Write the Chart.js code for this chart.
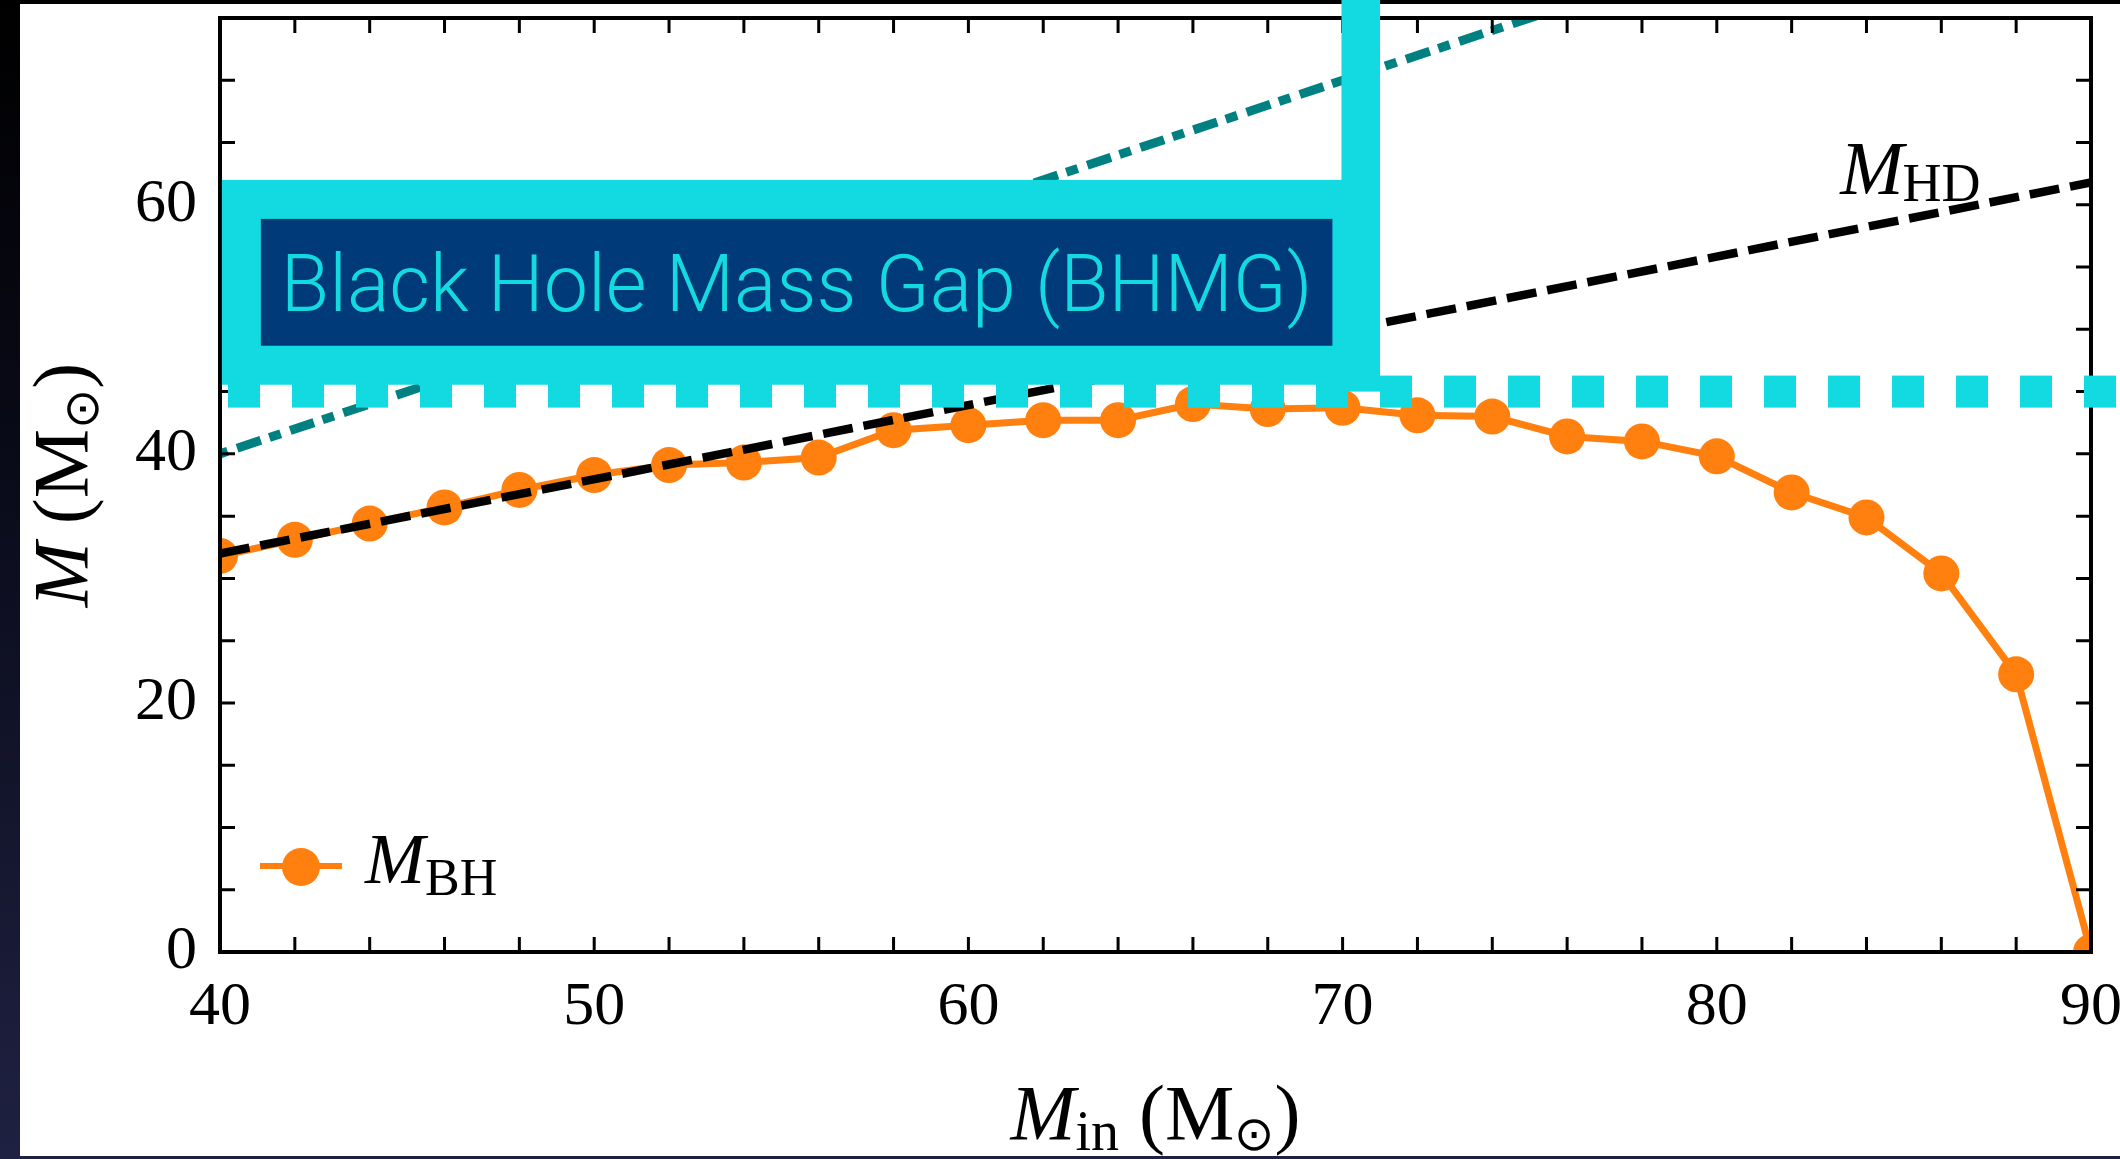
<!DOCTYPE html>
<html>
<head>
<meta charset="utf-8">
<script src="https://cdn.jsdelivr.net/npm/chart.js@4.4.1/dist/chart.umd.min.js"></script>
<style>
    html, body { margin: 0; padding: 0; background: #000; overflow: hidden; }
    #wrap { width: 2120px; height: 1159px; }
</style>
</head>
<body>
<div id="wrap"><canvas id="massChart" width="2120" height="1159"></canvas></div>
<script>
// initial mass of the star (x) and final black hole mass (y)
const mIn = [40, 42, 44, 46, 48, 50, 52, 54, 56, 58, 60, 62, 64, 66, 68, 70, 72, 74, 76, 78, 80, 82, 84, 86, 88, 90];
const mBH = [31.8, 33.1, 34.4, 35.7, 37.1, 38.3, 39.1, 39.3, 39.7, 41.9, 42.3, 42.7, 42.7, 44.0, 43.6, 43.7,
             43.1, 43.0, 41.4, 41.0, 39.8, 36.9, 34.9, 30.4, 22.3, 0];

// M_HD straight line and the M = M_in line
const hdX = [40, 90];
const hdY = [32.0, 61.8];
const eqX = [40, 76];
const eqY = [40, 76];

// mass gap annotation (data units)
const gapLevel = 45;
const gapBoxX = [40.05, 70.77];
const gapBoxY = [45.55, 62.0];
const gapBarX = [69.97, 71.0];
const gapText = 'Black Hole Mass Gap (BHMG)';

// tick labels
const xTickLabels = ['40', '50', '60', '70', '80', '90'];
const yTickLabels = ['0', '20', '40', '60'];

const SERIF = "'Liberation Serif', 'Times New Roman', serif";
const CYAN = '#12dae0';
const NAVY = '#003a78';
const ORANGE = '#ff800e';
const TEAL = '#008080';

function pts(xs, ys) {
    return xs.map((x, i) => ({ x: x, y: ys[i] }));
}

// draw a small formula made of pieces (italic M, subscripts...)
function drawMath(ctx, parts, x, y, align) {
    let total = 0;
    parts.forEach(p => {
        ctx.font = (p.it ? 'italic ' : '') + p.size + 'px ' + SERIF;
        p.w = ctx.measureText(p.t).width;
        total += p.w + (p.gap || 0);
    });
    let cx = align === 'center' ? x - total / 2 : x;
    parts.forEach(p => {
        ctx.font = (p.it ? 'italic ' : '') + p.size + 'px ' + SERIF;
        ctx.fillText(p.t, cx, y + (p.dy || 0));
        cx += p.w + (p.gap || 0);
    });
}

const pagePlugin = {
    id: 'page',
    beforeDraw(chart) {
        const ctx = chart.ctx;
        const g = ctx.createLinearGradient(0, 0, 0, chart.height);
        g.addColorStop(0, '#000000');
        g.addColorStop(0.45, '#0b0c1c');
        g.addColorStop(1, '#1f2142');
        ctx.save();
        ctx.fillStyle = g;
        ctx.fillRect(0, 0, chart.width, chart.height);
        ctx.fillStyle = '#ffffff';
        ctx.fillRect(20, 4, chart.width - 20, chart.height - 7);
        ctx.restore();
    }
};

// box around the axes with inward ticks on all four sides
const framePlugin = {
    id: 'frame',
    afterDatasetsDraw(chart) {
        const { ctx, chartArea: a, scales: { x, y } } = chart;
        ctx.save();
        ctx.strokeStyle = '#000';
        ctx.lineWidth = 3;
        const len = 15;
        ctx.beginPath();
        x.ticks.forEach(t => {
            const px = x.getPixelForValue(t.value);
            ctx.moveTo(px, a.bottom); ctx.lineTo(px, a.bottom - len);
            ctx.moveTo(px, a.top); ctx.lineTo(px, a.top + len);
        });
        y.ticks.forEach(t => {
            const py = y.getPixelForValue(t.value);
            ctx.moveTo(a.left, py); ctx.lineTo(a.left + len, py);
            ctx.moveTo(a.right, py); ctx.lineTo(a.right - len, py);
        });
        ctx.stroke();
        ctx.lineWidth = 4;
        ctx.strokeRect(a.left, a.top, a.right - a.left, a.bottom - a.top);
        ctx.restore();
    }
};

const notePlugin = {
    id: 'notes',
    afterDraw(chart) {
        const { ctx, chartArea: a, scales: { x, y } } = chart;
        ctx.save();

        // lower edge of the gap, dashed
        ctx.strokeStyle = CYAN;
        ctx.lineWidth = 32;
        ctx.setLineDash([32, 32]);
        ctx.lineDashOffset = -8;
        ctx.beginPath();
        ctx.moveTo(x.getPixelForValue(40), y.getPixelForValue(gapLevel));
        ctx.lineTo(chart.width, y.getPixelForValue(gapLevel));
        ctx.stroke();
        ctx.setLineDash([]);

        // label box
        const bx0 = x.getPixelForValue(gapBoxX[0]);
        const bx1 = x.getPixelForValue(gapBoxX[1]);
        const by0 = y.getPixelForValue(gapBoxY[1]);
        const by1 = y.getPixelForValue(gapBoxY[0]);
        const fw = 39;
        ctx.fillStyle = CYAN;
        ctx.fillRect(bx0, by0, bx1 - bx0, by1 - by0);
        const barL = x.getPixelForValue(gapBarX[0]);
        const barR = x.getPixelForValue(gapBarX[1]);
        ctx.fillRect(barL, 0, barR - barL, y.getPixelForValue(gapLevel));
        ctx.fillStyle = NAVY;
        ctx.fillRect(bx0 + fw, by0 + fw, bx1 - bx0 - 2 * fw, by1 - by0 - 2 * fw);

        let size = 77;
        ctx.font = '300 ' + size + 'px Roboto, Lato, sans-serif';
        const w = ctx.measureText(gapText).width;
        size = Math.max(68, Math.min(86, size * 1032 / w));
        ctx.font = '300 ' + size + 'px Roboto, Lato, sans-serif';
        ctx.fillStyle = CYAN;
        ctx.textAlign = 'center';
        ctx.textBaseline = 'alphabetic';
        ctx.fillText(gapText, (bx0 + bx1) / 2, (by0 + by1) / 2 + size * 0.36);

        // M_HD label
        ctx.textAlign = 'left';
        ctx.fillStyle = '#000';
        drawMath(ctx, [
            { t: 'M', it: true, size: 76, gap: -1 },
            { t: 'HD', size: 54, dy: 7 }
        ], x.getPixelForValue(83.3), y.getPixelForValue(60.9), 'left');

        // legend
        const ly = a.bottom - 86;
        ctx.strokeStyle = ORANGE;
        ctx.lineWidth = 6;
        ctx.beginPath();
        ctx.moveTo(a.left + 40, ly);
        ctx.lineTo(a.left + 122, ly);
        ctx.stroke();
        ctx.fillStyle = ORANGE;
        ctx.beginPath();
        ctx.arc(a.left + 81, ly + 1, 19, 0, Math.PI * 2);
        ctx.fill();
        ctx.fillStyle = '#000';
        drawMath(ctx, [
            { t: 'M', it: true, size: 72, gap: 0 },
            { t: 'BH', size: 52, dy: 12 }
        ], a.left + 145, a.bottom - 69, 'left');

        // axis titles
        drawMath(ctx, [
            { t: 'M', it: true, size: 78, gap: 0 },
            { t: 'in', size: 56, dy: 11, gap: 20 },
            { t: '(', size: 78 },
            { t: 'M', size: 78 },
            { t: '\u2299', size: 48, dy: 11 },
            { t: ')', size: 78 }
        ], (a.left + a.right) / 2, 1139, 'center');

        ctx.translate(87, (a.top + a.bottom) / 2);
        ctx.rotate(-Math.PI / 2);
        drawMath(ctx, [
            { t: 'M', it: true, size: 78, gap: 18 },
            { t: '(', size: 78 },
            { t: 'M', size: 78 },
            { t: '\u2299', size: 48, dy: 11 },
            { t: ')', size: 78 }
        ], 0, 0, 'center');

        ctx.restore();
    }
};

const tickFont = { family: SERIF, size: 62 };

new Chart(document.getElementById('massChart'), {
    type: 'line',
    data: {
        datasets: [
            {
                label: 'M_HD',
                data: pts(hdX, hdY),
                borderColor: '#000',
                borderWidth: 8.5,
                borderDash: [30, 11],
                pointRadius: 0,
                fill: false,
                clip: 0
            },
            {
                label: 'M = M_in',
                data: pts(eqX, eqY),
                borderColor: TEAL,
                borderWidth: 9,
                borderDash: [25, 9, 12, 10],
                borderDashOffset: 38,
                pointRadius: 0,
                fill: false,
                clip: 0
            },
            {
                label: 'M_BH',
                data: pts(mIn, mBH),
                borderColor: ORANGE,
                backgroundColor: ORANGE,
                borderWidth: 7,
                pointRadius: 18,
                pointBackgroundColor: ORANGE,
                pointBorderWidth: 0,
                fill: false,
                clip: 0
            }
        ]
    },
    options: {
        responsive: false,
        animation: false,
        devicePixelRatio: 1,
        events: [],
        layout: { padding: { left: 0, top: 17, right: 29, bottom: 0 } },
        plugins: { legend: { display: false }, tooltip: { enabled: false } },
        scales: {
            x: {
                type: 'linear',
                min: 40, max: 90,
                grid: { display: false },
                border: { display: false },
                ticks: {
                    stepSize: 2,
                    autoSkip: false,
                    maxRotation: 0,
                    padding: 11,
                    color: '#000',
                    font: tickFont,
                    callback: (v) => xTickLabels.includes(String(v)) ? String(v) : ''
                },
                afterFit: (s) => { s.height = 207; s.paddingLeft = 0; s.paddingRight = 0; }
            },
            y: {
                type: 'linear',
                min: 0, max: 75,
                grid: { display: false },
                border: { display: false },
                ticks: {
                    stepSize: 5,
                    autoSkip: false,
                    padding: 15,
                    color: '#000',
                    font: tickFont,
                    callback: (v) => yTickLabels.includes(String(v)) ? String(v) : ''
                },
                afterFit: (s) => { s.width = 220; s.paddingTop = 0; s.paddingBottom = 0; }
            }
        }
    },
    plugins: [pagePlugin, framePlugin, notePlugin]
});
</script>
</body>
</html>
